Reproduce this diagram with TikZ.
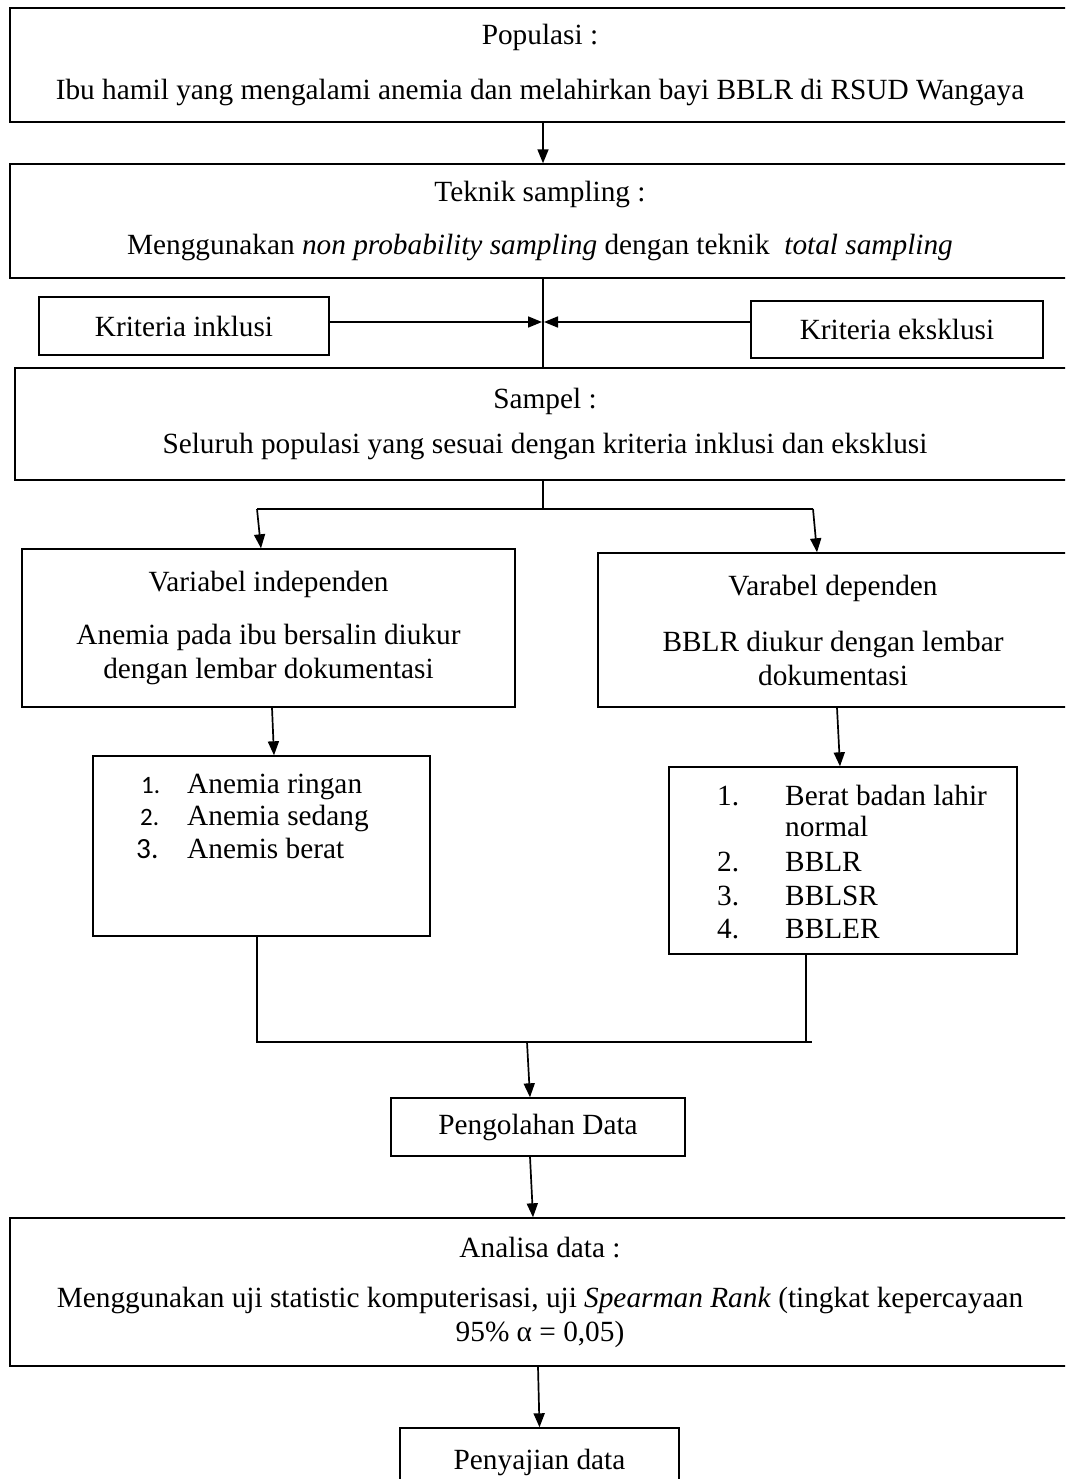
\documentclass[tikz,border=0pt]{standalone}
\usepackage{fontspec}
\setmainfont{Liberation Serif}
\newfontfamily\calfont{Carlito}
\usetikzlibrary{arrows.meta}
\newcommand\fsz{\fontsize{29.3}{34}\selectfont}
\begin{document}
\begin{tikzpicture}[x=1pt,y=-1pt,
  box/.style={draw, line width=1.4pt, inner sep=0pt, align=center, font=\fsz},
  arr/.style={line width=1.7pt, -{Triangle[length=14pt,width=11pt]}},
  ln/.style={line width=1.1pt},
  hln/.style={line width=1.6pt},
  itm/.style={anchor=base west, inner sep=0pt, font=\fsz},
  numsm/.style={anchor=base west, inner sep=0pt, font=\calfont\fontsize{25}{30}\selectfont},
  numbg/.style={anchor=base west, inner sep=0pt, font=\calfont\fontsize{29.3}{34}\selectfont}]
\clip (0,0) rectangle (1065,1479);
\fill[white] (0,0) rectangle (1065,1479);

% main boxes
\node[box, minimum width=1060pt, minimum height=114pt] (pop) at (540,65)
  {Populasi :\\[21pt]Ibu hamil yang mengalami anemia dan melahirkan bayi BBLR di RSUD Wangaya};
\node[box, minimum width=1060pt, minimum height=114pt] (tek) at (540,221)
  {Teknik sampling :\\[19pt]Menggunakan \textit{non probability sampling} dengan teknik\ \ \textit{total sampling}};
\node[box, minimum width=290pt, minimum height=58pt] (inc) at (184,326) {Kriteria inklusi};
\node[box, minimum width=292pt, minimum height=57pt] (exc) at (897,329.5) {Kriteria eksklusi};
\node[box, minimum width=1060pt, minimum height=112pt] (sam) at (545,424)
  {Sampel :\\[11pt]Seluruh populasi yang sesuai dengan kriteria inklusi dan eksklusi};
\node[box, minimum width=493pt, minimum height=158pt] (vi) at (268.5,628)
  {Variabel independen\\[19pt]Anemia pada ibu bersalin diukur\\dengan lembar dokumentasi};
\node[box, minimum width=470pt, minimum height=154pt] (vd) at (833,630)
  {Varabel dependen\\[22pt]BBLR diukur dengan lembar\\dokumentasi};
\node[box, minimum width=337pt, minimum height=180pt] (la) at (261.5,846) {};
\node[box, minimum width=348pt, minimum height=187pt] (lb) at (843,860.5) {};
\node[box, minimum width=294pt, minimum height=58pt] (peng) at (538,1127) {Pengolahan Data};
\node[box, minimum width=1060pt, minimum height=148pt] (ana) at (540,1292)
  {Analisa data :\\[16pt]Menggunakan uji statistic komputerisasi, uji \textit{Spearman Rank} (tingkat kepercayaan\\95\% α = 0,05)};
\node[box, minimum width=279pt, minimum height=68pt] (pen) at (539.5,1462) {Penyajian data};

% left list
\node[numsm] (la1n) at (141,793) {1.};
\node[itm] (la1t) at (187,793) {Anemia ringan};
\node[numsm] (la2n) at (140,825) {2.};
\node[itm] (la2t) at (187,825) {Anemia sedang};
\node[numbg] (la3n) at (136,858) {3.};
\node[itm] (la3t) at (187,858) {Anemis berat};

% right list
\node[itm] (lb1n) at (717,805) {1.};
\node[itm] (lb1t) at (785,805) {Berat badan lahir};
\node[itm] (lb1u) at (785,836) {normal};
\node[itm] (lb2n) at (717,871) {2.};
\node[itm] (lb2t) at (785,871) {BBLR};
\node[itm] (lb3n) at (717,905) {3.};
\node[itm] (lb3t) at (785,905) {BBLSR};
\node[itm] (lb4n) at (717,938) {4.};
\node[itm] (lb4t) at (785,938) {BBLER};

% connectors
\draw[arr] ([xshift=3pt]pop.south) -- ([xshift=3pt]tek.north);

\coordinate (vt) at (543,278);
\coordinate (mid) at (543,322);
\draw[ln] (tek.south -| vt) -- (sam.north -| vt);
\draw[arr] (inc.east |- mid) -- ([xshift=-1pt]mid);
\draw[arr] (exc.west |- mid) -- ([xshift=1pt]mid);

\coordinate (sp) at (543,509);
\coordinate (bl) at (257,509);
\coordinate (br) at (813,509);
\draw[ln] (sam.south -| sp) -- (sp);
\draw[hln] (bl) -- (br);
\draw[arr] (bl) -- ([xshift=-7.5pt]vi.north);
\draw[arr] (br) -- ([xshift=-16pt]vd.north);

\draw[arr] ([xshift=3.5pt]vi.south) -- ([xshift=12.5pt]la.north);
\draw[arr] ([xshift=4pt]vd.south) -- ([xshift=-3pt]lb.north);

\coordinate (jl) at (257,1042);
\coordinate (jr) at (812,1042);
\coordinate (jrv) at (806,1042);
\coordinate (jm) at (527,1042);
\draw[ln] (la.south -| jl) -- (jl) -- (jr);
\draw[ln] (lb.south -| jrv) -- (jrv);
\draw[arr] (jm) -- ([xshift=-8pt]peng.north);
\draw[arr] ([xshift=-8pt]peng.south) -- ([xshift=-7pt]ana.north);
\draw[arr] ([xshift=-2pt]ana.south) -- (pen.north);
\end{tikzpicture}
\end{document}
